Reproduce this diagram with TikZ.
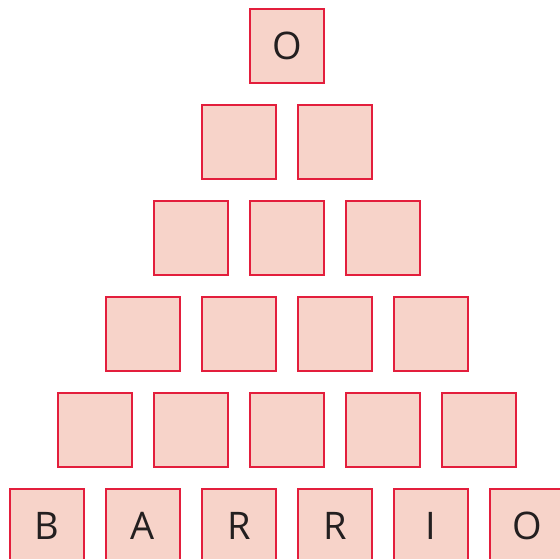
\documentclass[tikz,border=0pt]{standalone}
\usepackage{fontspec}
\setmainfont{Open Sans}
\definecolor{tilefill}{HTML}{F7D3C9}
\definecolor{tileline}{HTML}{E31E3C}
\definecolor{tiletext}{HTML}{231F20}
\begin{document}
\begin{tikzpicture}[x=1pt, y=-1pt,
    tile/.style={draw=tileline, fill=tilefill, line width=2pt, minimum size=74pt,
      inner sep=0pt, text=tiletext, font=\fontsize{38}{38}\selectfont}]
    \useasboundingbox (0,0) rectangle (560,558);
    \node[tile] (r1c1) at (287,46) {O};
    \node[tile] (r2c1) at (239,142) {};
    \node[tile] (r2c2) at (335,142) {};
    \node[tile] (r3c1) at (191,238) {};
    \node[tile] (r3c2) at (287,238) {};
    \node[tile] (r3c3) at (383,238) {};
    \node[tile] (r4c1) at (143,334) {};
    \node[tile] (r4c2) at (239,334) {};
    \node[tile] (r4c3) at (335,334) {};
    \node[tile] (r4c4) at (431,334) {};
    \node[tile] (r5c1) at (95,430) {};
    \node[tile] (r5c2) at (191,430) {};
    \node[tile] (r5c3) at (287,430) {};
    \node[tile] (r5c4) at (383,430) {};
    \node[tile] (r5c5) at (479,430) {};
    \node[tile] (r6c1) at (47,526) {B};
    \node[tile] (r6c2) at (143,526) {A};
    \node[tile] (r6c3) at (239,526) {R};
    \node[tile] (r6c4) at (335,526) {R};
    \node[tile] (r6c5) at (431,526) {I};
    \node[tile] (r6c6) at (527,526) {O};
\end{tikzpicture}
\end{document}
